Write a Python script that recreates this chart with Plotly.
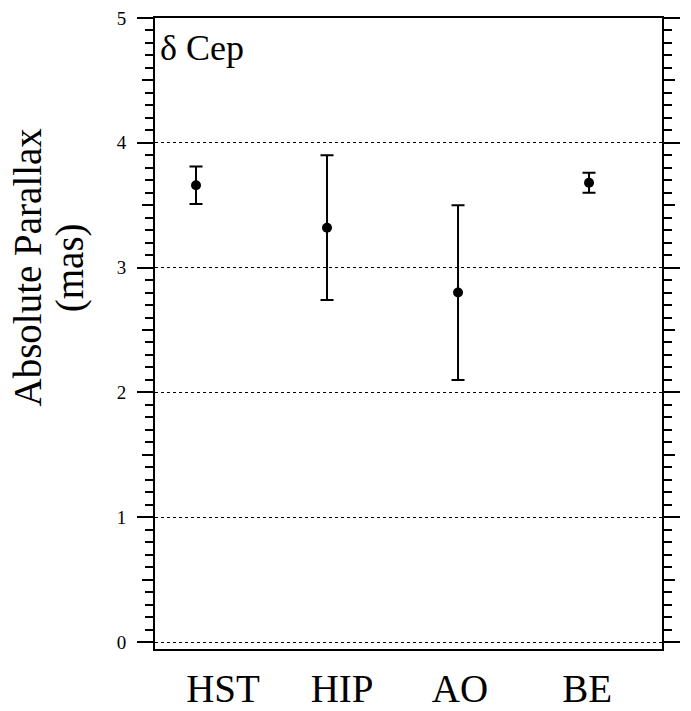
import plotly.graph_objects as go

# data
methods = ["HST", "HIP", "AO", "BE"]
method_pos = [1, 2, 3, 4]
parallax = [3.66, 3.32, 2.80, 3.68]
parallax_err = [0.15, 0.58, 0.70, 0.08]
# category labels sit a little off the points in the original
label_pos = [1.206, 2.115, 3.015, 3.985]

serif = "Liberation Serif, Times New Roman, serif"

fig = go.Figure()
fig.add_trace(go.Scatter(
    x=method_pos, y=parallax, mode="markers",
    marker=dict(color="black", size=10),
    error_y=dict(type="data", array=parallax_err, color="black", thickness=2, width=6.5),
    showlegend=False,
))
# empty trace so the half-unit tick axis gets drawn
fig.add_trace(go.Scatter(x=[], y=[], yaxis="y2", showlegend=False, hoverinfo="skip"))

yrange = [-0.056, 5.0]

fig.update_layout(
    width=691, height=711,
    margin=dict(l=155, r=29, t=18, b=62),
    plot_bgcolor="white", paper_bgcolor="white",
    font=dict(family=serif, color="black"),
    xaxis=dict(
        range=[0.687, 4.557], tickvals=label_pos, ticktext=methods,
        ticks="", showgrid=False, zeroline=False, automargin=False,
        showline=True, linecolor="black", linewidth=2, mirror=True,
        tickfont=dict(size=39, family=serif), ticklabelstandoff=4,
    ),
    yaxis=dict(
        range=yrange, dtick=1, tick0=0, automargin=False,
        ticks="outside", ticklen=16, tickwidth=2, tickcolor="black",
        minor=dict(dtick=0.1, tick0=0, ticks="outside", ticklen=8, tickwidth=2,
                   tickcolor="black", showgrid=False),
        showgrid=True, gridcolor="black", gridwidth=1, griddash="dot",
        zeroline=False, showline=True, linecolor="black", linewidth=2, mirror="ticks",
        tickfont=dict(size=19, family=serif), ticklabelstandoff=7,
    ),
    yaxis2=dict(
        range=yrange, overlaying="y", side="left", dtick=1, tick0=0.5,
        ticks="outside", ticklen=12, tickwidth=2, tickcolor="black", automargin=False,
        showticklabels=False, showgrid=False, zeroline=False, showline=False,
        mirror="ticks",
    ),
    annotations=[
        dict(text="Absolute Parallax", xref="paper", yref="paper", x=-0.252, y=0.605,
             textangle=-90, showarrow=False, xanchor="center", yanchor="middle",
             font=dict(size=39, family=serif)),
        dict(text="(mas)", xref="paper", yref="paper", x=-0.1677, y=0.605,
             textangle=-90, showarrow=False, xanchor="center", yanchor="middle",
             font=dict(size=39, family=serif)),
        dict(text="δ Cep", xref="paper", yref="paper", x=0.006, y=0.987,
             showarrow=False, xanchor="left", yanchor="top",
             font=dict(size=36, family=serif)),
    ],
)

# drop the browser's default 8px body margin so the figure sits at the page corner
fig.write_html("out.html", config={"displayModeBar": False},
               post_script="document.body.style.margin='0';")
